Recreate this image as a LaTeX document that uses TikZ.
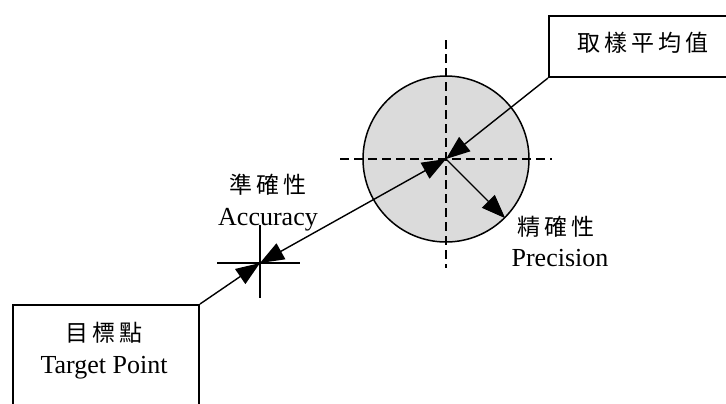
\documentclass[tikz,border=0pt]{standalone}
\usepackage{fontspec}
\setmainfont{Liberation Serif}
\newfontfamily\cjk{Noto Sans CJK TC}[LetterSpace=18]
\usetikzlibrary{arrows.meta}

\begin{document}
\begin{tikzpicture}[x=0.5pt, y=-0.5pt, every node/.style={font=\fontsize{13}{15}\selectfont},
	box/.style={draw, line width=1pt, inner sep=0pt},
	cjklbl/.style={font=\cjk\fontsize{11.5}{14}\selectfont},
	tri/.style={-{Triangle[length=12pt, width=9pt]}, line width=0.7pt}]
	\useasboundingbox (0,0) rectangle (726,403);
	% target point and sample mean boxes (cut off by the page edge)
	\node[box, anchor=north west, minimum width=93pt, minimum height=60pt] (target) at (12,304) {};
	\node[box, anchor=north west, minimum width=100pt, minimum height=30.5pt] (mean) at (548,15) {};
	\node[cjklbl] (targetcn) at (104,333) {目標點};
	\node (targeten) at (104,368) {Target Point};
	\node[cjklbl] (meancn) at (643,43) {取樣平均值};
	% spread of the samples
	\node[circle, draw, fill=gray!28, line width=0.75pt, minimum size=83pt, inner sep=0pt] (prec) at (446,159) {};
	\draw[dashed, dash pattern=on 4.5pt off 2.5pt, line width=1pt] ([xshift=-53pt]prec.center) -- ([xshift=53pt]prec.center);
	\draw[dashed, dash pattern=on 4.5pt off 2.5pt, line width=1pt] ([yshift=59.5pt]prec.center) -- ([yshift=-54.5pt]prec.center);
	% accuracy mark
	\coordinate (acc) at (260,263);
	\draw[line width=1pt] ([xshift=-21.5pt]acc) -- ([xshift=20pt]acc);
	\draw[line width=1pt] ([yshift=19pt]acc) -- ([yshift=-17.5pt]acc);
	\node[cjklbl] (acccn) at (268,185) {準確性};
	\node (accen) at (268,220) {Accuracy};
	\node[cjklbl] (preccn) at (556,227) {精確性};
	\node (precen) at (560,258) {Precision};
	% arrows
	\draw[tri] (target.north east) -- (acc);
	\draw[tri, {Triangle[length=12pt, width=9pt]}-{Triangle[length=12pt, width=9pt]}] (acc) -- (prec.center);
	\draw[tri] (mean.south west) -- (prec.center);
	\draw[tri] (prec.center) -- (prec.-45);
\end{tikzpicture}
\end{document}
